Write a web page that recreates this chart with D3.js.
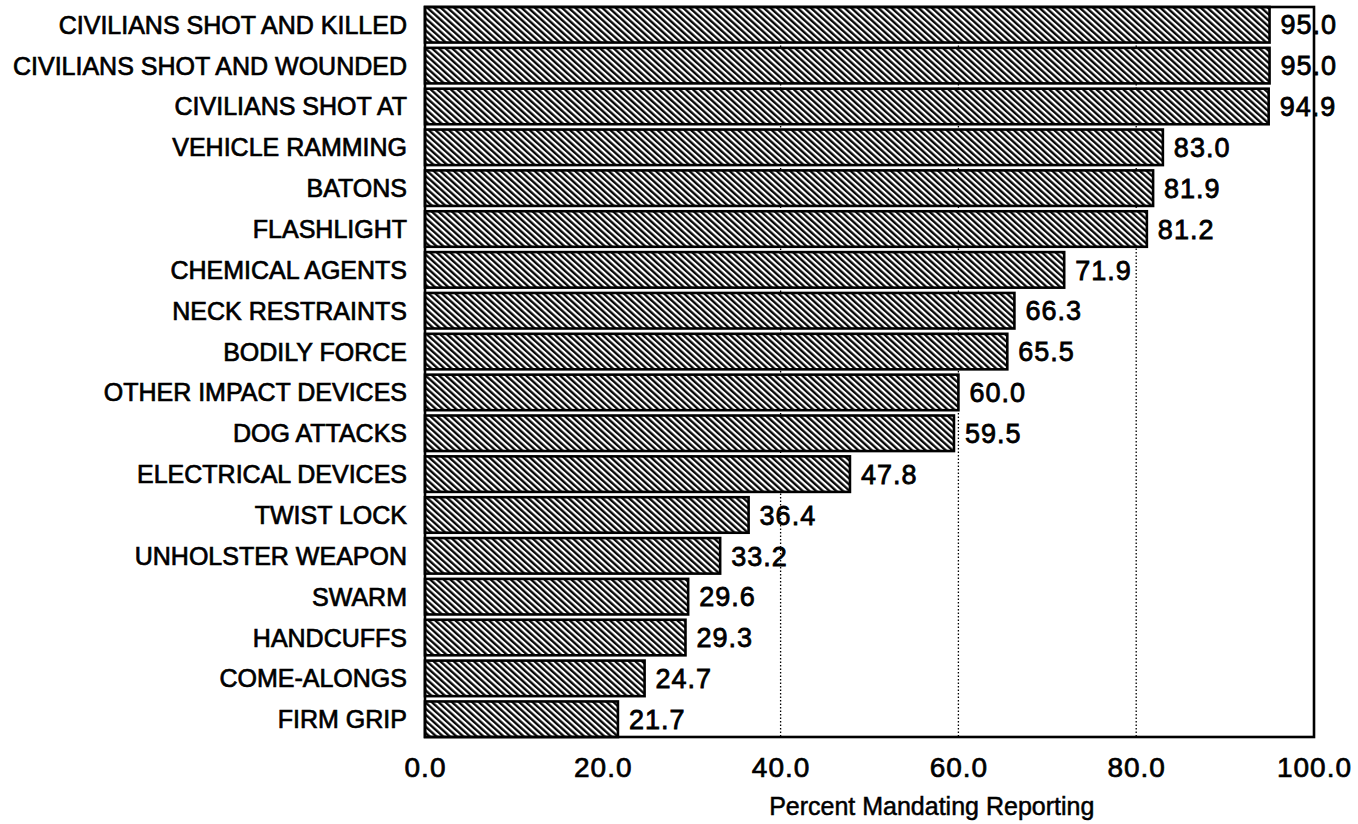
<!DOCTYPE html>
<html>
<head>
<meta charset="utf-8">
<script src="https://cdn.jsdelivr.net/npm/d3@7"></script>
<style>
  body { margin: 0; background: #fff; }
  svg { display: block; }
  text { font-family: "Liberation Sans", Arial, sans-serif; fill: #000; }
</style>
</head>
<body>
<svg id="chart"></svg>
<script>
// data
const categories = [
    "CIVILIANS SHOT AND KILLED",
    "CIVILIANS SHOT AND WOUNDED",
    "CIVILIANS SHOT AT",
    "VEHICLE RAMMING",
    "BATONS",
    "FLASHLIGHT",
    "CHEMICAL AGENTS",
    "NECK RESTRAINTS",
    "BODILY FORCE",
    "OTHER IMPACT DEVICES",
    "DOG ATTACKS",
    "ELECTRICAL DEVICES",
    "TWIST LOCK",
    "UNHOLSTER WEAPON",
    "SWARM",
    "HANDCUFFS",
    "COME-ALONGS",
    "FIRM GRIP"
];
const percents = [95.0, 95.0, 94.9, 83.0, 81.9, 81.2, 71.9, 66.3, 65.5, 60.0, 59.5, 47.8, 36.4, 33.2, 29.6, 29.3, 24.7, 21.7];
const xTicks = [0, 20, 40, 60, 80, 100];
const gridValues = [40, 60, 80];
const axisTitle = "Percent Mandating Reporting";

// layout
const width = 1358, height = 824;
const plotLeft = 425, plotRight = 1314, plotTop = 7, plotBottom = 737;

const svg = d3.select("#chart")
    .attr("width", width)
    .attr("height", height);

// hatch pattern
const defs = svg.append("defs");
const hatch = defs.append("pattern")
    .attr("id", "hatch")
    .attr("patternUnits", "userSpaceOnUse")
    .attr("width", 4.5)
    .attr("height", 10)
    .attr("patternTransform", "rotate(-48)");
hatch.append("rect")
    .attr("width", 4.5).attr("height", 10).attr("fill", "#fff");
hatch.append("line")
    .attr("x1", 1.2).attr("y1", 0).attr("x2", 1.2).attr("y2", 10)
    .attr("stroke", "#000").attr("stroke-width", 2.3);

const x = d3.scaleLinear()
    .domain([0, 100])
    .range([plotLeft, plotRight]);
const y = d3.scaleBand()
    .domain(categories)
    .range([plotTop, plotBottom])
    .paddingInner(0.13)
    .paddingOuter(0);

const data = categories.map((c, i) => ({ cat: c, val: percents[i] }));

// dotted grid lines
svg.append("g")
    .selectAll("line")
    .data(gridValues)
    .join("line")
    .attr("x1", d => x(d)).attr("x2", d => x(d))
    .attr("y1", plotTop).attr("y2", plotBottom)
    .attr("stroke", "#000")
    .attr("stroke-width", 1.3)
    .attr("stroke-dasharray", "1.5,2");

// bars
svg.append("g")
    .selectAll("rect")
    .data(data)
    .join("rect")
    .attr("x", x(0))
    .attr("y", d => y(d.cat))
    .attr("width", d => x(d.val) - x(0))
    .attr("height", y.bandwidth())
    .attr("fill", "url(#hatch)")
    .attr("stroke", "#000")
    .attr("stroke-width", 2.6);

// frame
svg.append("rect")
    .attr("x", plotLeft)
    .attr("y", plotTop)
    .attr("width", plotRight - plotLeft)
    .attr("height", plotBottom - plotTop)
    .attr("fill", "none")
    .attr("stroke", "#000")
    .attr("stroke-width", 2.6);

// value labels
svg.append("g")
    .selectAll("text")
    .data(data)
    .join("text")
    .attr("x", d => x(d.val) + 11)
    .attr("y", d => y(d.cat) + y.bandwidth() / 2)
    .attr("dy", "0.36em")
    .attr("font-size", 27)
    .attr("letter-spacing", 1)
    .attr("stroke", "#000")
    .attr("stroke-width", 0.8)
    .text(d => d.val.toFixed(1));

// category labels
svg.append("g")
    .selectAll("text")
    .data(data)
    .join("text")
    .attr("x", plotLeft - 18)
    .attr("y", d => y(d.cat) + y.bandwidth() / 2)
    .attr("dy", "0.36em")
    .attr("text-anchor", "end")
    .attr("font-size", 25)
    .attr("stroke", "#000")
    .attr("stroke-width", 0.7)
    .text(d => d.cat);

// x axis tick labels
const xAxis = d3.axisBottom(x)
    .tickValues(xTicks)
    .tickFormat(d => d.toFixed(1))
    .tickSize(0)
    .tickPadding(0);
const axisG = svg.append("g")
    .attr("transform", `translate(0,${plotBottom})`)
    .call(xAxis);
axisG.select(".domain").remove();
axisG.selectAll("text")
    .attr("y", 40)
    .attr("dy", 0)
    .attr("font-family", "Liberation Sans, Arial, sans-serif")
    .attr("font-size", 28)
    .attr("letter-spacing", 1)
    .attr("fill", "#000")
    .attr("stroke", "#000")
    .attr("stroke-width", 0.7);

// axis title
svg.append("text")
    .attr("x", x(57))
    .attr("y", 815)
    .attr("text-anchor", "middle")
    .attr("font-size", 25)
    .attr("stroke", "#000")
    .attr("stroke-width", 0.5)
    .text(axisTitle);
</script>
</body>
</html>
